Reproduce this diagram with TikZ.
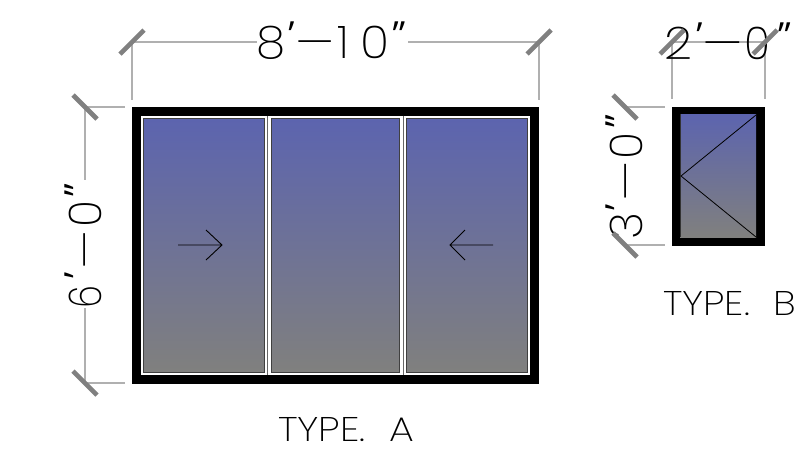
\documentclass[tikz,border=0pt]{standalone}
\usepackage{fontspec}
\usepackage{graphicx}
\setmainfont{Poppins ExtraLight}
\newfontfamily\quotefont{Open Sans}
\newcommand{\fitbox}[3]{\resizebox{#1pt}{#2pt}{\mbox{#3}}}
% one character of a dimension string, in a cell of fixed width
\newlength{\cellw}
\newcommand{\gl}[2]{\setlength{\cellw}{#1pt}\addtolength{\cellw}{5pt}\makebox[#1pt][c]{\resizebox{\cellw}{\height}{#2}}}
\newcommand{\gn}[2]{\makebox[#1pt][c]{#2}}
\newcommand{\qm}[2]{\makebox[#1pt][c]{\raisebox{11pt}{\fontsize{36}{36}\quotefont #2}}}
\newcommand{\dm}[1]{\setlength{\cellw}{#1pt}\setlength{\cellw}{1.45\cellw}\makebox[#1pt][c]{\resizebox{\cellw}{\height}{–}}}
\definecolor{glasstop}{RGB}{92,100,175}
\definecolor{glassbot}{RGB}{128,128,126}
\definecolor{dimline}{RGB}{176,176,176}
\definecolor{dimtick}{RGB}{128,128,128}
\tikzset{
  every node/.style={inner sep=0pt,outer sep=0pt,text=black},
  dimlabel/.style={anchor=base west,font=\fontsize{45}{45}\selectfont},
  glass/.style={draw=black!75,line width=.9pt,top color=glasstop,bottom color=glassbot},
  frameblack/.style={fill=black,draw=none},
  dimrule/.style={draw=dimline,line width=1.2pt},
  ticker/.style={draw=dimtick,line width=4.6pt},
  swing/.style={draw=black,line width=.8pt},
  arrowline/.style={draw=black,line width=.9pt},
}
\begin{document}
\begin{tikzpicture}[x=1pt,y=-1pt]
\useasboundingbox (0,0) rectangle (796,461);
% Type A
\fill[frameblack] (132,107) rectangle (539,384);
\fill[white] (141,115.5) rectangle (530,375);
\draw[black!60,line width=.5pt] (267.7,115.5) -- (267.7,375) (403,115.5) -- (403,375);
\path[glass] (143.5,118) rectangle (264.5,372);
\path[glass] (271.5,118) rectangle (399.5,372);
\path[glass] (406.5,118) rectangle (527.5,372);
\draw[arrowline] (178,245) -- (222,245) (206,230) -- (222,245) -- (206,260);
\draw[arrowline] (493,245) -- (450,245) (465,230) -- (450,245) -- (465,260);
% Type B
\fill[frameblack] (672,107) rectangle (765,246);
\path[glass,draw=none] (680,114) rectangle (756,237);
\draw[black!80,line width=.8pt] (680.3,114) -- (680.3,237);
\draw[swing] (756,115) -- (681,176) -- (756,237);
% dimension lines
\coordinate (a1) at (132,42); \coordinate (a2) at (539,42);
\coordinate (c1) at (85,107); \coordinate (c2) at (85,383);
\coordinate (b1) at (672,42); \coordinate (b2) at (765,42);
\coordinate (e1) at (625,107); \coordinate (e2) at (625,245);
\draw[dimrule] (a1) -- (257,42) (408,42) -- (a2);
\draw[dimrule] (a1) -- (132,100) (a2) -- (539,100);
\draw[dimrule] (c1) -- (125,107) (c2) -- (125,383);
\draw[dimrule] (c1) -- (85,180) (c2) -- (85,308);
\draw[dimrule] (b1) -- (b2) (b1) -- (672,99) (b2) -- (765,99);
\draw[dimrule] (e1) -- (665,107) (e2) -- (665,245);
% dimension text
\node[dimlabel] (da) at (259,58) {\gl{24}{8}\kern5pt\qm{7}{’}\kern7pt\dm{27}\kern10pt\gn{9}{1}\kern15pt\gl{24}{0}\kern5pt\qm{14}{”}};
\node[dimlabel] (tb) at (667,59) {\gl{23}{2}\kern7pt\qm{5}{’}\kern7pt\dm{28}\kern10pt\gl{21}{0}\kern9pt\qm{15}{”}};
\node[dimlabel,rotate=90] (dl) at (101,306) {\gl{18}{6}\kern10pt\qm{6}{’}\kern9pt\dm{27}\kern11pt\gl{22}{0}\kern5pt\qm{16}{”}};
\node[dimlabel,rotate=90] (dr) at (642,237) {\gl{22}{3}\kern6pt\qm{4}{’}\kern10pt\dm{28}\kern10pt\gl{22}{0}\kern7pt\qm{13}{”}};
% labels
\node[anchor=north west] (la) at (278,417) {\fitbox{136}{24}{TYPE.\kern.6em A}};
\node[anchor=north west] (lb) at (663,291) {\fitbox{133}{24}{TYPE.\kern.6em B}};
% ticks
\foreach \p in {a1,a2,b1,b2}{\draw[ticker] ([shift={(-12,12)}]\p) -- ([shift={(12,-12)}]\p);}
\foreach \p in {c1,c2,e1,e2}{\draw[ticker] ([shift={(-12,-12)}]\p) -- ([shift={(12,12)}]\p);}
\end{tikzpicture}
\end{document}
